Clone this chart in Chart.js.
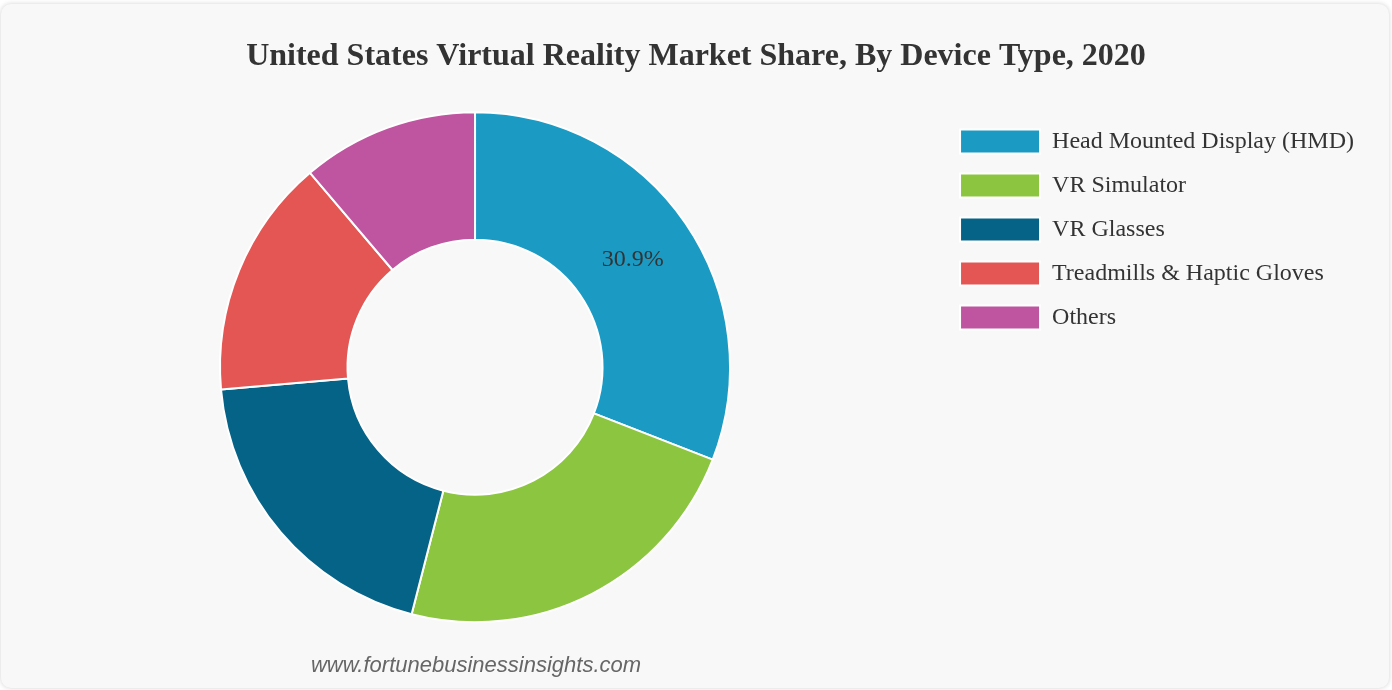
<!DOCTYPE html>
<html>
<head>
<meta charset="utf-8">
<script src="https://cdn.jsdelivr.net/npm/chart.js@4.4.1/dist/chart.umd.min.js"></script>
<style>
  html, body { margin: 0; padding: 0; background: #ffffff; }
  body { width: 1392px; height: 690px; position: relative; overflow: hidden; }
  #card {
    position: absolute; left: 1px; top: 4px; width: 1388px; height: 684px;
    background: #f8f8f8; border-radius: 10px;
    box-shadow: 0 0 5px rgba(0,0,0,0.18);
  }
  #wrap { position: absolute; left: 0; top: 0; width: 1392px; height: 690px; }
  #src {
    position: absolute; left: 0; width: 952px; top: 652px; text-align: center;
    font: italic 22px "Liberation Sans", Arial, sans-serif; color: #666666;
  }
</style>
</head>
<body>
<div id="card"></div>
<div id="wrap"><canvas id="c" width="1392" height="690"></canvas></div>
<div id="src">www.fortunebusinessinsights.com</div>
<script>
const titleText = "United States Virtual Reality Market Share, By Device Type, 2020";
const categories = ["Head Mounted Display (HMD)", "VR Simulator", "VR Glasses", "Treadmills & Haptic Gloves", "Others"];
const shares = [30.9, 23.1, 19.6, 15.2, 11.2];
const sliceColors = ["#1b9bc4", "#8cc640", "#066388", "#e35654", "#bf55a0"];
const shownLabels = ["30.9%", "", "", "", ""];

const sliceLabelPlugin = {
  id: "sliceLabels",
  afterDatasetsDraw(chart) {
    const ctx = chart.ctx;
    const meta = chart.getDatasetMeta(0);
    ctx.save();
    ctx.font = '24px "Liberation Serif", "Times New Roman", serif';
    ctx.fillStyle = "#333333";
    ctx.textAlign = "center";
    ctx.textBaseline = "middle";
    meta.data.forEach((arc, i) => {
      const txt = shownLabels[i];
      if (!txt) return;
      const p = arc.tooltipPosition();
      ctx.fillText(txt, p.x, p.y);
    });
    ctx.restore();
  }
};

// leave some empty room to the right of the legend without shifting the title
const legendRoomPlugin = {
  id: "legendRoom",
  beforeLayout(chart) {
    const lg = chart.legend;
    if (lg && !lg._roomPatched) {
      const origFit = lg.fit.bind(lg);
      lg.fit = function () { origFit(); this.width += 18; };
      lg._roomPatched = true;
    }
  },
  afterLayout(chart) {
    const lg = chart.legend;
    if (lg) { lg.left -= 10; lg.right -= 10; }
  }
};

new Chart(document.getElementById("c"), {
  type: "doughnut",
  data: {
    labels: categories,
    datasets: [{
      data: shares,
      backgroundColor: sliceColors,
      borderColor: "#ffffff",
      borderWidth: 2,
      clip: false
    }]
  },
  options: {
    responsive: false,
    animation: false,
    cutout: "50%",
    radius: 255,
    layout: { padding: { top: 0, left: 0, right: 0, bottom: 65 } },
    plugins: {
      title: {
        display: true,
        text: titleText,
        color: "#333333",
        font: { family: '"Liberation Serif", "Times New Roman", serif', size: 32, weight: "bold" },
        padding: { top: 38, bottom: 33 }
      },
      legend: {
        position: "right",
        align: "start",
        fullSize: false,
        labels: {
          boxWidth: 80,
          boxHeight: 24,
          padding: 20,
          color: "#333333",
          font: { family: '"Liberation Serif", "Times New Roman", serif', size: 24 }
        }
      },
      tooltip: { enabled: false }
    }
  },
  plugins: [sliceLabelPlugin, legendRoomPlugin]
});
</script>
</body>
</html>
